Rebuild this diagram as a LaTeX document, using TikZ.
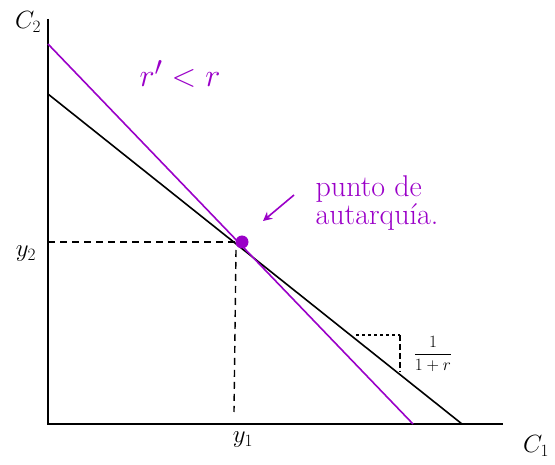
\documentclass[tikz,border=0pt]{standalone}
\usetikzlibrary{arrows.meta}
\definecolor{purp}{HTML}{9A00C8}
\begin{document}
\begin{tikzpicture}[x=1pt,y=-1pt,
  axis/.style={line width=1.8pt,black},
  budget/.style={line width=1.6pt},
  guide/.style={line width=1.4pt,dash pattern=on 7pt off 5pt},
  lbl/.style={font=\fontsize{25}{28}\selectfont},
  plbl/.style={font=\fontsize{30}{28}\selectfont,text=purp}]
\useasboundingbox (0,0) rectangle (555,465);
% axes
\coordinate (O) at (48,424);
\coordinate (ytop) at (48,19);
\coordinate (xend) at (503,424);
\draw[axis] (ytop) -- (O) -- (xend);
% budget lines
\coordinate (b1) at (48,94);
\coordinate (b2) at (462,424);
\coordinate (p1) at (48,44);
\coordinate (p2) at (413,424);
\draw[budget,black] (b1) -- (b2);
\draw[budget,purp] (p1) -- (p2);
% autarky point
\coordinate (E) at (242,242);
\coordinate (y2a) at (48,242);
\coordinate (y1a) at (236,250);
\coordinate (y1b) at (234,412);
\draw[guide] (y2a) -- (E);
\draw[guide] (y1a) -- (y1b);
\fill[purp] (E) circle (6.5);
% labels
\node[lbl] (c2) at (28,22) {$C_2$};
\node[lbl] (c1) at (536,446) {$C_1$};
\node[lbl] (y2) at (26,254) {$y_2$};
\node[lbl] (y1) at (243,440) {$y_1$};
\node[plbl] (rr) at (180,74) {\scalebox{1.3}{$r' < r$}};
\node[plbl,align=left] (pa) at (377,203) {punto de\\autarquía.};
\coordinate (arS) at (294,195);
\coordinate (arE) at (263,221);
\draw[purp,line width=1.6pt,-{Stealth[length=9pt,width=9pt]}] (arS) -- (arE);
% slope triangle
\coordinate (t1) at (356,335);
\coordinate (t2) at (400,335);
\coordinate (t3) at (400,372);
\draw[line width=1.4pt,dash pattern=on 3pt off 3pt] (t1) -- (t2);
\draw[line width=1.4pt,dash pattern=on 6pt off 3pt] (t2) -- (t3);
\node[font=\fontsize{16}{18}\selectfont] (frac) at (433,354) {$\displaystyle\frac{1}{1+r}$};
\end{tikzpicture}
\end{document}
